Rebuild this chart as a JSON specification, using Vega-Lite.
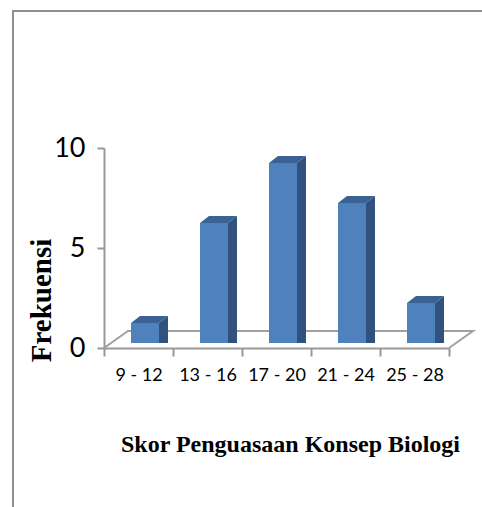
{
  "$schema": "https://vega.github.io/schema/vega-lite/v6.json",
  "width": 345,
  "height": 200,
  "autosize": {"type": "none"},
  "padding": {"left": 104, "top": 148, "right": 33, "bottom": 159},
  "background": "white",
  "config": {"view": {"stroke": null}},
  "data": {"values": [
    {"kelas": "9 - 12", "frekuensi": 1},
    {"kelas": "13 - 16", "frekuensi": 6},
    {"kelas": "17 - 20", "frekuensi": 9},
    {"kelas": "21 - 24", "frekuensi": 7},
    {"kelas": "25 - 28", "frekuensi": 2}
  ]},
  "encoding": {
    "x": {
      "field": "kelas", "type": "nominal", "sort": null,
      "scale": {"paddingInner": 0, "paddingOuter": 0},
      "axis": {
        "title": "Skor Penguasaan Konsep Biologi",
        "titleFont": "Liberation Serif", "titleFontSize": 24, "titleFontWeight": "bold", "titleColor": "#000",
        "titleX": 186, "titleY": 103, "titleAlign": "center", "titleBaseline": "alphabetic",
        "labelFont": "Lato", "labelFontSize": 18, "labelColor": "#000", "labelAngle": 0, "labelPadding": 10, "labelOverlap": false,
        "tickBand": "extent", "tickSize": 8, "tickWidth": 2, "tickColor": "#999999",
        "domainColor": "#999999", "domainWidth": 2, "grid": false
      }
    },
    "y": {
      "field": "frekuensi", "type": "quantitative",
      "scale": {"domain": [0, 10], "nice": false},
      "axis": {
        "values": [0, 5, 10],
        "title": "Frekuensi",
        "titleFont": "Liberation Serif", "titleFontSize": 29, "titleFontWeight": "bold", "titleColor": "#000",
        "titleX": -63, "titleY": 152, "titleAngle": -90, "titleAlign": "center", "titleBaseline": "middle",
        "labelFont": "Lato", "labelFontSize": 27, "labelColor": "#000", "labelPadding": 12,
        "tickSize": 7, "tickWidth": 2, "tickColor": "#999999",
        "domainColor": "#999999", "domainWidth": 2, "grid": false
      }
    }
  },
  "layer": [
    {
      "transform": [{"filter": "datum.kelas === '9 - 12'"}],
      "mark": {"type": "point", "size": 4, "filled": false, "fill": null, "stroke": "#8f8f8f", "strokeWidth": 2, "opacity": 1,
        "shape": "M-125.5,159 L-125.5,-337 L343.5,-337"},
      "encoding": {"y": {"datum": 0}}
    },
    {
      "transform": [{"filter": "datum.kelas === '9 - 12'"}],
      "mark": {"type": "point", "size": 4, "filled": false, "fill": null, "stroke": "#a0a0a0", "strokeWidth": 2, "opacity": 1,
        "shape": "M-34.5,0 L-10.5,-17 L334.5,-17 L310.5,0"},
      "encoding": {"y": {"datum": 0}}
    },
    {
      "mark": {"type": "bar", "size": 9, "color": "#31527e", "xOffset": 25, "x2Offset": 25, "yOffset": -5, "y2Offset": -12}
    },
    {
      "mark": {"type": "point", "size": 4, "filled": true, "color": "#31527e", "opacity": 1,
        "shape": "M20.5,-5 L29.5,-12 L29.5,-4.5 L20.5,-4.5 Z"}
    },
    {
      "mark": {"type": "point", "size": 4, "filled": true, "color": "#31527e", "opacity": 1,
        "shape": "M20.5,-5 L29.5,-12 L29.5,-12.5 L20.5,-12.5 Z"},
      "encoding": {"y": {"datum": 0}}
    },
    {
      "mark": {"type": "point", "size": 4, "filled": true, "color": "#3a6294", "opacity": 1,
        "shape": "M-7.5,-5 L1.5,-12 L29.5,-12 L20.5,-5 Z"}
    },
    {
      "mark": {"type": "bar", "size": 28, "color": "#4f81bd", "xOffset": 6.5, "x2Offset": 6.5, "yOffset": -5, "y2Offset": -5}
    }
  ]
}
